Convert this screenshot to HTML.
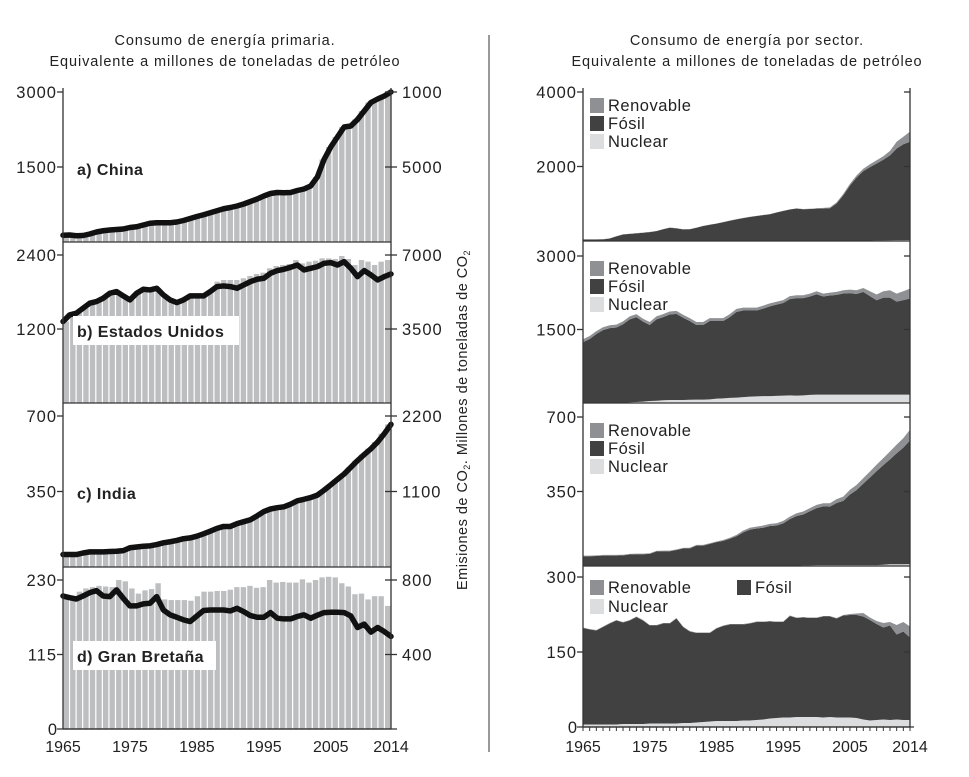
<!DOCTYPE html>
<html><head><meta charset="utf-8">
<style>
html,body{margin:0;padding:0;background:#fff;}
svg{display:block;font-family:"Liberation Sans",sans-serif;}
</style></head>
<body>
<svg id="chart" width="969" height="777" viewBox="0 0 969 777">
<text x="225" y="45" font-size="14.5" letter-spacing="0.9" text-anchor="middle" fill="#222">Consumo de energía primaria.</text>
<text x="225" y="66" font-size="14.5" letter-spacing="0.9" text-anchor="middle" fill="#222">Equivalente a millones de toneladas de petróleo</text>
<text x="747" y="45" font-size="14.5" letter-spacing="0.9" text-anchor="middle" fill="#222">Consumo de energía por sector.</text>
<text x="747" y="66" font-size="14.5" letter-spacing="0.9" text-anchor="middle" fill="#222">Equivalente a millones de toneladas de petróleo</text>
<line x1="489" y1="35" x2="489" y2="752" stroke="#333" stroke-width="1"/>
<text transform="translate(467,420) rotate(-90)" font-size="14.5" letter-spacing="0.5" text-anchor="middle" fill="#222">Emisiones de CO<tspan font-size="9" dy="3">2</tspan><tspan dy="-3">. Millones de toneladas de CO</tspan><tspan font-size="9" dy="3">2</tspan></text>
<g id="left"></g>
<g id="right"></g>
</svg>
<script>
const years = [];
for (let y = 1965; y <= 2014; y++) years.push(y);
const xTickYears = [1965, 1975, 1985, 1995, 2005, 2014];

// Left panels: energy (bars) and CO2 (line)
const chinaEnergy = [135,140,125,130,160,200,225,240,250,260,290,305,340,375,385,385,385,400,430,470,510,545,585,625,665,690,720,760,810,860,920,970,990,985,990,1030,1060,1120,1300,1650,1900,2100,2300,2320,2450,2620,2790,2860,2920,3000];
const chinaCO2 = [450,467,417,433,533,667,750,800,833,867,967,1017,1133,1250,1283,1283,1283,1333,1433,1567,1700,1817,1950,2083,2217,2300,2400,2533,2700,2867,3067,3233,3300,3283,3300,3433,3533,3733,4333,5500,6333,7000,7667,7733,8167,8733,9300,9533,9733,10000];
const usaEnergy = [1321,1429,1456,1537,1618,1645,1699,1780,1807,1737,1672,1780,1844,1834,1861,1753,1672,1629,1672,1737,1737,1737,1807,1968,1995,1995,1995,2022,2060,2092,2114,2184,2222,2238,2254,2319,2265,2292,2308,2346,2346,2335,2384,2335,2238,2319,2292,2238,2292,2319];
const usaCO2 = [3854,4168,4247,4483,4719,4798,4955,5191,5270,5065,4876,5191,5380,5348,5427,5112,4876,4750,4876,5065,5065,5065,5270,5506,5537,5506,5427,5584,5741,5852,5899,6135,6261,6324,6418,6528,6292,6371,6450,6607,6638,6528,6686,6371,5977,6261,6056,5820,5977,6103];
const indiaEnergy = [58,58,58,65,70,70,70,72,73,76,89,93,96,98,104,112,117,123,131,135,143,154,166,179,188,188,201,210,219,237,257,269,275,279,291,307,314,322,333,356,381,406,431,462,493,521,548,579,618,661];
const indiaCO2 = [182,182,182,204,220,220,220,226,229,239,280,292,302,308,327,352,368,387,412,424,449,484,522,563,591,591,632,660,688,745,808,845,864,877,915,965,987,1012,1047,1119,1197,1276,1355,1452,1550,1638,1722,1820,1942,2078];
const ukEnergy = [204,204,212,217,219,221,220,219,230,228,217,209,214,216,225,200,199,199,199,198,205,212,212,213,213,215,219,219,221,218,219,230,226,227,226,226,231,226,230,234,235,234,225,220,208,209,200,205,205,190];
const ukCO2 = [714,705,698,714,732,743,714,711,747,702,661,661,672,675,711,639,613,600,586,577,607,636,639,639,639,634,648,630,609,600,600,625,595,591,591,604,613,595,611,625,627,627,625,607,545,563,520,545,523,497];

// Right panels: stacked sectors (nuclear, fossil, renewable)
const chinaNuclear = [0,0,0,0,0,0,0,0,0,0,0,0,0,0,0,0,0,0,0,0,0,0,0,0,0,0,0,0,0,3,3,3,3,3,4,4,4,6,10,11,12,12,14,15,16,17,20,22,25,28];
const chinaFossil = [40,40,40,45,67,125,175,190,205,220,239,265,315,356,340,311,315,355,401,435,465,505,545,582,615,645,670,695,717,762,804,842,868,850,856,867,866,872,998,1213,1478,1694,1862,1969,2066,2163,2280,2462,2574,2637];
const chinaRenew = [5,5,5,5,5,5,5,5,5,5,5,5,5,5,5,5,5,5,5,5,5,5,5,5,5,5,5,5,5,5,5,5,5,5,5,5,20,25,30,40,45,55,65,75,85,95,120,180,200,270];
const usaNuclear = [1,1,2,3,3,5,8,13,20,28,40,45,55,60,60,60,65,70,70,75,90,95,105,110,120,130,135,140,140,145,150,155,150,155,165,170,170,170,170,170,170,170,170,170,170,170,170,170,170,170];
const usaFossil = [1239,1306,1405,1484,1524,1535,1599,1694,1733,1632,1553,1662,1698,1747,1760,1680,1608,1523,1523,1598,1583,1578,1648,1750,1767,1757,1752,1787,1833,1862,1890,1965,1990,1985,2008,2050,2003,2023,2037,2065,2073,2055,2097,2010,1928,1980,1980,1898,1930,1963];
const usaRenew = [60,60,60,60,60,60,60,60,60,60,60,60,60,60,60,60,60,60,60,60,60,60,60,60,60,60,60,60,60,60,60,60,60,60,60,60,60,60,60,65,70,75,80,100,115,130,150,165,180,200];
const indiaNuclear = [0,0,0,0,0,1,1,1,1,1,1,1,1,1,1,1,1,1,1,1,2,2,2,2,2,2,2,2,2,2,2,2,2,3,3,4,4,4,4,4,4,4,4,4,4,6,8,8,8,9];
const indiaFossil = [46,46,47,49,49,48,49,53,54,54,56,67,68,68,74,81,82,95,95,103,110,116,126,138,156,169,174,178,186,188,198,218,233,239,254,268,276,275,292,302,332,353,383,412,442,468,493,522,548,581];
const indiaRenew = [3,3,3,3,3,3,3,3,3,3,3,3,3,3,3,3,3,3,3,3,3,4,5,6,8,9,9,10,10,11,12,12,13,14,15,15,15,16,18,20,22,24,26,28,30,33,37,40,45,50];
const ukNuclear = [5,5,5,5,5,5,6,6,6,6,7,7,7,7,7,8,8,9,10,11,12,12,12,12,13,13,14,15,17,18,19,19,20,20,20,20,19,20,19,19,19,18,15,13,14,15,14,15,14,14];
const ukFossil = [193,190,188,195,202,208,203,207,214,207,196,196,200,200,210,192,183,179,178,177,185,190,193,193,192,194,196,195,194,192,191,203,198,199,198,198,202,201,198,204,205,206,206,201,192,184,189,170,177,165];
const ukRenew = [1,1,1,1,1,1,1,1,1,1,1,1,1,1,1,1,1,1,1,1,1,1,1,1,1,1,1,1,1,1,1,1,1,1,1,1,1,1,1,1,2,3,7,5,6,9,7,19,19,22];

const NS = "http://www.w3.org/2000/svg";
function mk(tag, attrs, parent) {
  const e = document.createElementNS(NS, tag);
  for (const k in attrs) e.setAttribute(k, attrs[k]);
  parent.appendChild(e);
  return e;
}
const AX = "#333";
const TFS = 16.5, TLS = 1;

// ---------- LEFT ----------
const gL = document.getElementById("left");
const LX0 = 63, LX1 = 391;
const leftPanels = [
  {key:"china", top:92, bottom:242, max:3000, rmax:10000, e:chinaEnergy, c:chinaCO2, lt:["3000","1500"], rt:["1000","5000"], label:"a) China", box:false, ly:175},
  {key:"usa", top:255, bottom:403, max:2400, rmax:7000, e:usaEnergy, c:usaCO2, lt:["2400","1200"], rt:["7000","3500"], label:"b) Estados Unidos", box:true, ly:337},
  {key:"india", top:416, bottom:567, max:700, rmax:2200, e:indiaEnergy, c:indiaCO2, lt:["700","350"], rt:["2200","1100"], label:"c) India", box:false, ly:499},
  {key:"uk", top:580, bottom:729, max:230, rmax:800, e:ukEnergy, c:ukCO2, lt:["230","115"], rt:["800","400"], label:"d) Gran Bretaña", box:true, ly:662}
];
const bw = (LX1 - LX0) / years.length;
function lxLine(i){ return LX0 + i * (LX1 - LX0) / (years.length - 1); }
leftPanels.forEach(p => {
  const ys = v => p.bottom - v / p.max * (p.bottom - p.top);
  const yr = v => p.bottom - v / p.rmax * (p.bottom - p.top);
  p.e.forEach((v, i) => {
    const r = mk("rect", {x:(LX0 + i*bw + 0.6).toFixed(2), y:ys(v).toFixed(2), width:(bw-1.2).toFixed(2), height:(p.bottom - ys(v)).toFixed(2), fill:"#bdbec0"}, gL);
    
    
  });
  const pts = p.c.map((v, i) => lxLine(i).toFixed(2) + "," + yr(v).toFixed(2)).join(" ");
  const pl = mk("polyline", {points:pts, fill:"none", stroke:"#111", "stroke-width":5.5, "stroke-linejoin":"round", "stroke-linecap":"round"}, gL);
  
  
  const bl = mk("line", {x1:LX0, y1:p.bottom, x2:LX1, y2:p.bottom, stroke:AX, "stroke-width":1.3}, gL);
  
  
  [p.max, p.max/2].forEach((v, k) => {
    const y = ys(v);
    const t1 = mk("line", {x1:LX0-6, y1:y, x2:LX0, y2:y, stroke:AX, "stroke-width":1.3}, gL);
    
    
    const t2 = mk("line", {x1:LX1-6, y1:y, x2:LX1+6, y2:y, stroke:AX, "stroke-width":1.3}, gL);
    
    
    const lt = mk("text", {x:57, y:y+6, "font-size":TFS, "letter-spacing":TLS, "text-anchor":"end", fill:"#222"}, gL);
    lt.textContent = p.lt[k];
    
    
    const rt = mk("text", {x:402, y:y+6, "font-size":TFS, "letter-spacing":TLS, fill:"#222"}, gL);
    rt.textContent = p.rt[k];
    
    
  });
  if (p.box) {
    const w = p.key === "usa" ? 166 : 143;
    const b = mk("rect", {x:73, y:p.ly-21, width:w, height:29, fill:"#fff"}, gL);
    
    
  }
  const lab = mk("text", {x:77, y:p.ly, "font-size":16, "letter-spacing":0.4, "font-weight":"bold", fill:"#222"}, gL);
  lab.textContent = p.label;
  
  
});
const lax = mk("line", {x1:LX0, y1:88, x2:LX0, y2:729, stroke:AX, "stroke-width":1.3}, gL);


const rax = mk("line", {x1:LX1, y1:88, x2:LX1, y2:729, stroke:AX, "stroke-width":1.3}, gL);


const z0 = mk("line", {x1:LX0-6, y1:729, x2:LX1+6, y2:729, stroke:AX, "stroke-width":1.3}, gL);


const zl = mk("text", {x:57, y:735, "font-size":TFS, "text-anchor":"end", fill:"#222"}, gL);
zl.textContent = "0";


xTickYears.forEach(yv => {
  const t = mk("text", {x:lxLine(yv-1965), y:752, "font-size":16, "text-anchor":"middle", fill:"#222"}, gL);
  t.textContent = String(yv);
  
  
});

// ---------- RIGHT ----------
const gR = document.getElementById("right");
const RX0 = 583, RX1 = 910;
const rx = i => RX0 + i * (RX1 - RX0) / (years.length - 1);
const rightPanels = [
  {key:"china", top:92, bottom:241, max:4000, n:chinaNuclear, f:chinaFossil, r:chinaRenew, lt:["4000","2000"], legend:"col", ly:105},
  {key:"usa", top:256, bottom:403, max:3000, n:usaNuclear, f:usaFossil, r:usaRenew, lt:["3000","1500"], legend:"col", ly:268},
  {key:"india", top:417, bottom:566, max:700, n:indiaNuclear, f:indiaFossil, r:indiaRenew, lt:["700","350"], legend:"col", ly:430},
  {key:"uk", top:577, bottom:727, max:300, n:ukNuclear, f:ukFossil, r:ukRenew, lt:["300","150"], legend:"uk", ly:587}
];
rightPanels.forEach(p => {
  const ys = v => p.bottom - v / p.max * (p.bottom - p.top);
  const layers = [["nuclear", p.n, "#dcdddf"], ["fossil", p.f, "#414141"], ["renovable", p.r, "#8e9093"]];
  const base = years.map(() => 0);
  layers.forEach(([nm, arr, col]) => {
    const lower = base.slice();
    const upper = arr.map((v, i) => lower[i] + v);
    let pts = upper.map((v, i) => rx(i).toFixed(2) + "," + ys(v).toFixed(2));
    for (let i = years.length - 1; i >= 0; i--) pts.push(rx(i).toFixed(2) + "," + ys(lower[i]).toFixed(2));
    const poly = mk("polygon", {points:pts.join(" "), fill:col}, gR);
    
    
    upper.forEach((v, i) => base[i] = v);
  });
  const bl = mk("line", {x1:RX0, y1:p.bottom, x2:RX1, y2:p.bottom, stroke:AX, "stroke-width":1.3}, gR);
  
  
  [p.max, p.max/2].forEach((v, k) => {
    const y = ys(v);
    const t1 = mk("line", {x1:RX0-6, y1:y, x2:RX0, y2:y, stroke:AX, "stroke-width":1.3}, gR);
    
    
    const t2 = mk("line", {x1:RX1-6, y1:y, x2:RX1, y2:y, stroke:AX, "stroke-width":1.3}, gR);
    
    
    const lt = mk("text", {x:577, y:y+6, "font-size":TFS, "letter-spacing":TLS, "text-anchor":"end", fill:"#222"}, gR);
    lt.textContent = p.lt[k];
    
    
  });
  const items = p.legend === "col"
    ? [["Renovable", "#8e9093", 590, p.ly], ["Fósil", "#414141", 590, p.ly+18], ["Nuclear", "#dcdddf", 590, p.ly+36]]
    : [["Renovable", "#8e9093", 590, p.ly], ["Fósil", "#414141", 737, p.ly], ["Nuclear", "#dcdddf", 590, p.ly+19]];
  items.forEach(([txt, col, x, y]) => {
    const sw = mk("rect", {x:x, y:y-7, width:14, height:15, fill:col}, gR);
    
    
    const t = mk("text", {x:x+18, y:y+6, "font-size":16.5, "letter-spacing":0.5, fill:"#222"}, gR);
    t.textContent = txt;
    
    
  });
});
const rlax = mk("line", {x1:RX0, y1:88, x2:RX0, y2:727, stroke:AX, "stroke-width":1.3}, gR);


const rrax = mk("line", {x1:RX1, y1:88, x2:RX1, y2:727, stroke:AX, "stroke-width":1.3}, gR);


const rz = mk("line", {x1:RX0-6, y1:727, x2:RX1+4, y2:727, stroke:AX, "stroke-width":1.3}, gR);


const rzl = mk("text", {x:577, y:733, "font-size":TFS, "text-anchor":"end", fill:"#222"}, gR);
rzl.textContent = "0";


years.forEach((yv, i) => {
  const t = mk("line", {x1:rx(i), y1:727, x2:rx(i), y2:731, stroke:AX, "stroke-width":1}, gR);
  
  
});
xTickYears.forEach(yv => {
  const t = mk("text", {x:rx(yv-1965), y:752, "font-size":16, "text-anchor":"middle", fill:"#222"}, gR);
  t.textContent = String(yv);
  
  
});
</script>
</body></html>
